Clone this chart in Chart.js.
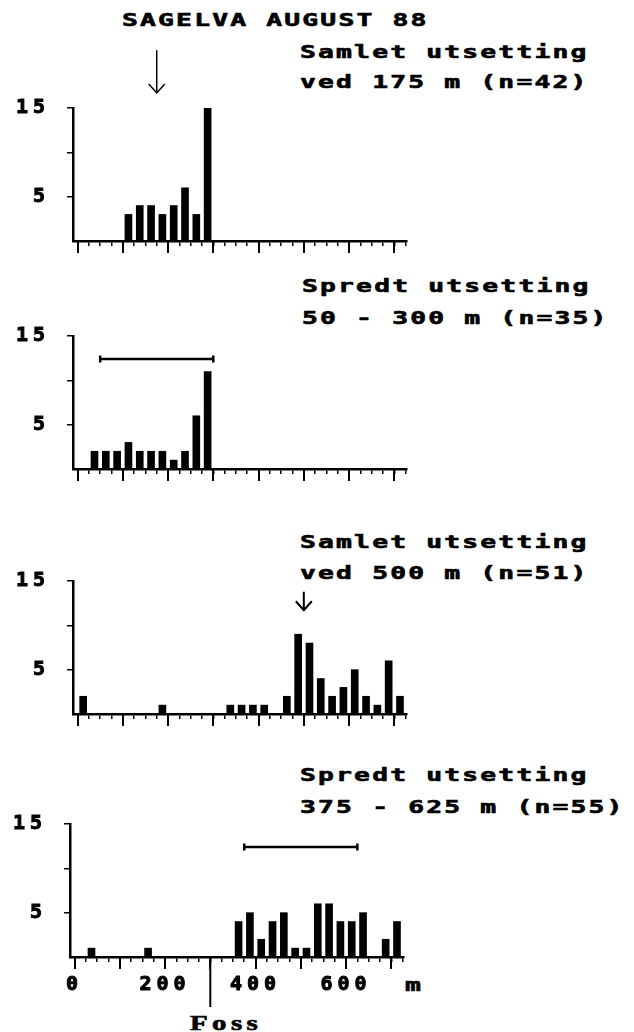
<!DOCTYPE html>
<html>
<head>
<meta charset="utf-8">
<script src="https://cdn.jsdelivr.net/npm/chart.js@4.4.0/dist/chart.umd.min.js"></script>
<style>
  body { margin: 0; background: #fff; width: 634px; height: 1032px; position: relative; overflow: hidden; }
  canvas { position: absolute; }
  .t {
    position: absolute; color: #000; white-space: pre; line-height: 20px;
    font: bold 17px 'DejaVu Sans Mono', monospace; letter-spacing: 1.4px;
    -webkit-text-stroke: 0.6px #000;
    transform: scaleX(1.55); transform-origin: 0 50%;
  }
  .foss { font: bold 20px 'Liberation Serif', serif; letter-spacing: 3px; transform: scaleX(1.45); }
</style>
</head>
<body>
<div class="t" style="left:122px;top:10px">SAGELVA AUGUST 88</div>

<div class="t" style="left:300px;top:42px">Samlet utsetting</div>
<div class="t" style="left:300px;top:72px">ved 175 m (n=42)</div>

<div class="t" style="left:302px;top:276px">Spredt utsetting</div>
<div class="t" style="left:302px;top:308px">50 - 300 m (n=35)</div>

<div class="t" style="left:300px;top:532px">Samlet utsetting</div>
<div class="t" style="left:300px;top:563px">ved 500 m (n=51)</div>

<div class="t" style="left:300px;top:765px">Spredt utsetting</div>
<div class="t" style="left:300px;top:797px">375 - 625 m (n=55)</div>

<div class="t" style="left:405px;top:975px">m</div>
<div class="t foss" style="left:190px;top:1012px">Foss</div>

<canvas id="c1" width="420" height="217" style="left:0;top:40px"></canvas>
<canvas id="c2" width="420" height="217" style="left:0;top:268px"></canvas>
<canvas id="c3" width="420" height="217" style="left:0;top:513px"></canvas>
<canvas id="c4" width="420" height="276" style="left:-3px;top:756px"></canvas>

<script>
// bin centres (m, 25 m bins) and fish counts per panel
const p1Bins   = [112.5, 137.5, 162.5, 187.5, 212.5, 237.5, 262.5, 287.5];
const p1Counts = [3, 4, 4, 3, 4, 6, 3, 15];

const p2Bins   = [37.5, 62.5, 87.5, 112.5, 137.5, 162.5, 187.5, 212.5, 237.5, 262.5, 287.5];
const p2Counts = [2, 2, 2, 3, 2, 2, 2, 1, 2, 6, 11];

const p3Bins   = [12.5, 187.5, 337.5, 362.5, 387.5, 412.5, 462.5, 487.5, 512.5,
                  537.5, 562.5, 587.5, 612.5, 637.5, 662.5, 687.5, 712.5];
const p3Counts = [2, 1, 1, 1, 1, 1, 2, 9, 8, 4, 2, 3, 5, 2, 1, 6, 2];

const p4Bins   = [37.5, 162.5, 362.5, 387.5, 412.5, 437.5, 462.5, 487.5, 512.5,
                  537.5, 562.5, 587.5, 612.5, 637.5, 687.5, 712.5];
const p4Counts = [1, 1, 4, 5, 2, 4, 5, 1, 1, 6, 6, 4, 4, 5, 2, 4];

// release point / release stretch (m)
const p1Release = [175];
const p2Stretch = [50, 300];
const p3Release = [500];
const p4Stretch = [375, 625];
const fossAt    = [300];

// axes
const yTickValues  = [5, 10, 15];
const yLabelValues = [5, 15];
const xLabelValues = [0, 200, 400, 600];
const xTickValues  = [];
for (let m = 0; m <= 725; m += 25) xTickValues.push(m);

// extra drawing: long major ticks, arrows, stretch bars, waterfall line
const marks = {
  id: 'marks',
  beforeDraw(chart) {
    chart.ctx.letterSpacing = '5px';
  },
  afterDraw(chart, args, o) {
    const { ctx, scales: { x, y } } = chart;
    const base = y.getPixelForValue(0);
    ctx.save();
    ctx.strokeStyle = '#000';
    ctx.lineCap = 'butt';
    ctx.lineWidth = 2;
    ctx.beginPath();
    xTickValues.filter(v => v % 100 === 0).forEach(v => {
      const px = Math.round(x.getPixelForValue(v));
      ctx.moveTo(px, base);
      ctx.lineTo(px, base + 12);
    });
    ctx.stroke();

    (o.arrows || []).forEach(v => {
      const px = x.getPixelForValue(v);
      const top = y.getPixelForValue(o.arrowFrom);
      const tip = y.getPixelForValue(o.arrowTo);
      ctx.lineWidth = o.arrowWidth;
      ctx.beginPath();
      ctx.moveTo(px, top);
      ctx.lineTo(px, tip);
      ctx.moveTo(px - 8, tip - 9);
      ctx.lineTo(px, tip);
      ctx.lineTo(px + 8, tip - 9);
      ctx.stroke();
    });

    if (o.stretch) {
      const a = x.getPixelForValue(o.stretch[0]);
      const b = x.getPixelForValue(o.stretch[1]);
      const py = y.getPixelForValue(12.4);
      ctx.lineWidth = 2.5;
      ctx.beginPath();
      ctx.moveTo(a, py); ctx.lineTo(b, py);
      ctx.moveTo(a, py - 3.5); ctx.lineTo(a, py + 3.5);
      ctx.moveTo(b, py - 3.5); ctx.lineTo(b, py + 3.5);
      ctx.stroke();
    }

    (o.foss || []).forEach(v => {
      const px = x.getPixelForValue(v);
      ctx.lineWidth = 2;
      ctx.beginPath();
      ctx.moveTo(px, base);
      ctx.lineTo(px, base + 50);
      ctx.stroke();
    });
    ctx.restore();
  }
};

function makePanel(id, bins, counts, opts, withLabels) {
  const tickFont = { family: 'DejaVu Sans Mono', size: 20, weight: 'bold' };
  return new Chart(document.getElementById(id), {
    type: 'bar',
    data: {
      datasets: [{
        data: bins.map((b, i) => ({ x: b, y: counts[i] })),
        backgroundColor: '#000',
        borderWidth: 0,
        barThickness: 7
      }]
    },
    options: {
      responsive: false,
      animation: false,
      events: [],
      layout: { padding: { top: 68, right: 13, left: 0, bottom: 0 } },
      plugins: { legend: { display: false }, tooltip: { enabled: false }, marks: opts },
      scales: {
        x: {
          type: 'linear',
          min: -10,
          max: 728,
          offset: false,
          afterBuildTicks: s => { s.ticks = xTickValues.map(v => ({ value: v })); },
          afterFit: s => {
            s.height = withLabels ? 75 : 16;
            s.paddingLeft = 0; s.paddingRight = 0;
          },
          grid: { offset: false, drawOnChartArea: false, drawTicks: true, tickLength: 5, color: '#000', lineWidth: 1.5 },
          border: { display: true, color: '#000', width: 2.5 },
          ticks: {
            autoSkip: false, maxRotation: 0, padding: 11, color: '#000', font: tickFont,
            textStrokeColor: '#000', textStrokeWidth: 1,
            callback: v => (withLabels && xLabelValues.includes(v)) ? String(v) : ''
          }
        },
        y: {
          min: 0,
          max: 15,
          afterBuildTicks: s => { s.ticks = yTickValues.map(v => ({ value: v })); },
          afterFit: s => {
            s.width = 73;
            s.paddingTop = 0; s.paddingBottom = 0;
          },
          grid: { drawOnChartArea: false, drawTicks: true, tickLength: 6, color: '#000', lineWidth: 1.5 },
          border: { display: true, color: '#000', width: 2.5 },
          ticks: {
            padding: 17, color: '#000', font: tickFont,
            textStrokeColor: '#000', textStrokeWidth: 1,
            callback: v => yLabelValues.includes(v) ? String(v) : ''
          }
        }
      }
    },
    plugins: [marks]
  });
}

makePanel('c1', p1Bins, p1Counts, { arrows: p1Release, arrowFrom: 21.5, arrowTo: 16.7, arrowWidth: 1.5 }, false);
makePanel('c2', p2Bins, p2Counts, { stretch: p2Stretch }, false);
makePanel('c3', p3Bins, p3Counts, { arrows: p3Release, arrowFrom: 13.8, arrowTo: 11.7, arrowWidth: 2 }, false);
makePanel('c4', p4Bins, p4Counts, { stretch: p4Stretch, foss: fossAt }, true);
</script>
</body>
</html>
